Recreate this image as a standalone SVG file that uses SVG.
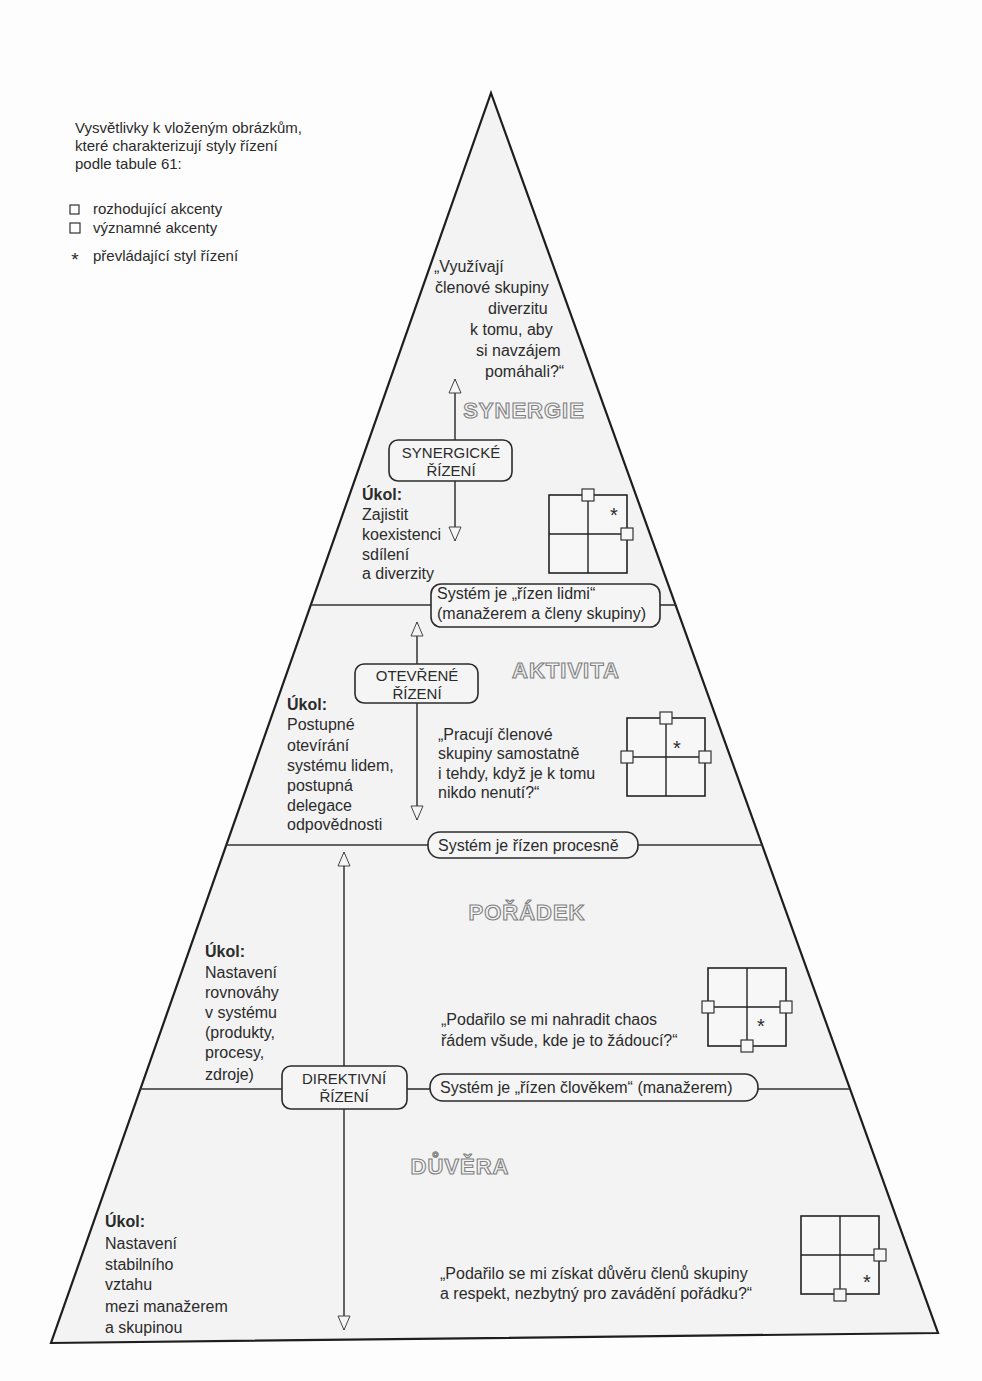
<svg xmlns="http://www.w3.org/2000/svg" width="982" height="1381" viewBox="0 0 982 1381">
<defs>
<style>
text{font-family:"Liberation Sans",Arial,sans-serif;fill:#2b2b2b;}
.t{font-size:16px;}
.lg{font-size:15px;}
.b{font-weight:bold;}
.bx{font-size:15px;text-anchor:middle;}
.lvl{font-size:22px;font-weight:bold;letter-spacing:1px;text-anchor:middle;fill:#f4f4f4;stroke:#808080;stroke-width:1.1;}
.box{fill:#f5f5f5;stroke:#2b2b2b;stroke-width:1.6;}
.ln{stroke:#333;stroke-width:1.6;fill:none;}
.ar{stroke:#333;stroke-width:1.5;fill:none;marker-end:url(#ah);}
.grid{fill:#f7f7f7;stroke:#222;stroke-width:1.6;}
.gl{stroke:#222;stroke-width:1.4;}
.sq{fill:#f7f7f7;stroke:#333;stroke-width:1.2;}
.st{font-size:20px;text-anchor:middle;}
</style>
<marker id="ah" viewBox="0 0 16 14" refX="15" refY="7" markerWidth="16" markerHeight="14" markerUnits="userSpaceOnUse" orient="auto">
<path d="M1,1 L15,7 L1,13 Z" fill="#f5f5f5" stroke="#444" stroke-width="1"/>
</marker>
<g id="gridtpl">
<rect class="grid" x="0" y="0" width="78" height="78"/>
<line class="gl" x1="39" y1="0" x2="39" y2="78"/>
<line class="gl" x1="0" y1="39" x2="78" y2="39"/>
</g>
</defs>
<rect x="0" y="0" width="982" height="1381" fill="#fdfdfd"/>

<g id="pyramid">
<polygon points="491,93 938,1333 51,1343" fill="#f3f3f3" stroke="#1e1e1e" stroke-width="2.2" stroke-linejoin="miter"/>
</g>

<g id="connectors">
<line class="ln" x1="311" y1="605" x2="431" y2="605"/>
<line class="ln" x1="660" y1="605" x2="676" y2="605"/>
<line class="ln" x1="226" y1="845" x2="428" y2="845"/>
<line class="ln" x1="638" y1="845" x2="762" y2="845"/>
<line class="ln" x1="140" y1="1089" x2="282" y2="1089"/>
<line class="ln" x1="407" y1="1089" x2="430" y2="1089"/>
<line class="ln" x1="758" y1="1089" x2="850" y2="1089"/>
<line class="ar" x1="455" y1="441" x2="455" y2="379"/>
<line class="ar" x1="455" y1="481" x2="455" y2="541"/>
<line class="ar" x1="417" y1="664" x2="417" y2="622"/>
<line class="ar" x1="417" y1="703" x2="417" y2="820"/>
<line class="ar" x1="344" y1="1066" x2="344" y2="852"/>
<line class="ar" x1="344" y1="1109" x2="344" y2="1330"/>
</g>

<g id="legend">
<text class="lg" x="75" y="133">Vysvětlivky k vloženým obrázkům,</text>
<text class="lg" x="75" y="151">které charakterizují styly řízení</text>
<text class="lg" x="75" y="169">podle tabule 61:</text>
<rect x="70" y="205" width="9" height="9" fill="none" stroke="#333" stroke-width="1.2"/>
<text class="lg" x="93" y="214">rozhodující akcenty</text>
<rect x="70" y="223" width="10" height="10" fill="none" stroke="#333" stroke-width="1.2"/>
<text class="lg" x="93" y="233">významné akcenty</text>
<text x="75" y="266" style="font-size:19px;text-anchor:middle">*</text>
<text class="lg" x="93" y="261">převládající styl řízení</text>
</g>

<g id="level-synergie">
<text class="lvl" x="524" y="418">SYNERGIE</text>
<text class="t" x="434" y="272">„Využívají</text>
<text class="t" x="435" y="293">členové skupiny</text>
<text class="t" x="488" y="314">diverzitu</text>
<text class="t" x="470" y="335">k tomu, aby</text>
<text class="t" x="476" y="356">si navzájem</text>
<text class="t" x="485" y="377">pomáhali?“</text>
<text class="t" x="362" y="500"><tspan class="b">Úkol:</tspan></text>
<text class="t" x="362" y="520">Zajistit</text>
<text class="t" x="362" y="540">koexistenci</text>
<text class="t" x="362" y="560">sdílení</text>
<text class="t" x="362" y="579">a diverzity</text>
</g>
<g id="grid-synergie">
<use href="#gridtpl" x="549" y="495"/>
<rect class="sq" x="582" y="489" width="12" height="12"/>
<rect class="sq" x="621" y="528" width="12" height="12"/>
<text class="st" x="614" y="522">*</text>
</g>
<g id="node-synergicke">
<rect class="box" x="389" y="440" width="123" height="41" rx="9"/>
<text class="bx" x="451" y="458">SYNERGICKÉ</text>
<text class="bx" x="451" y="476">ŘÍZENÍ</text>
</g>
<g id="node-rizen-lidmi">
<rect class="box" x="431" y="584" width="229" height="43" rx="10"/>
<text class="t" x="437" y="599">Systém je „řízen lidmi“</text>
<text class="t" x="437" y="619">(manažerem a členy skupiny)</text>
</g>

<g id="level-aktivita">
<text class="lvl" x="566" y="678">AKTIVITA</text>
<text class="t" x="287" y="710"><tspan class="b">Úkol:</tspan></text>
<text class="t" x="287" y="730">Postupné</text>
<text class="t" x="287" y="751">otevírání</text>
<text class="t" x="287" y="771">systému lidem,</text>
<text class="t" x="287" y="791">postupná</text>
<text class="t" x="287" y="811">delegace</text>
<text class="t" x="287" y="830">odpovědnosti</text>
<text class="t" x="438" y="740">„Pracují členové</text>
<text class="t" x="438" y="759">skupiny samostatně</text>
<text class="t" x="438" y="779">i tehdy, když je k tomu</text>
<text class="t" x="438" y="798">nikdo nenutí?“</text>
</g>
<g id="grid-aktivita">
<use href="#gridtpl" x="627" y="718"/>
<rect class="sq" x="660" y="712" width="12" height="12"/>
<rect class="sq" x="621" y="751" width="12" height="12"/>
<rect class="sq" x="699" y="751" width="12" height="12"/>
<text class="st" x="677" y="755">*</text>
</g>
<g id="node-otevrene">
<rect class="box" x="355" y="664" width="123" height="39" rx="9"/>
<text class="bx" x="417" y="681">OTEVŘENÉ</text>
<text class="bx" x="417" y="699">ŘÍZENÍ</text>
</g>
<g id="node-procesne">
<rect class="box" x="428" y="832" width="210" height="26" rx="12"/>
<text class="t" x="438" y="851">Systém je řízen procesně</text>
</g>

<g id="level-poradek">
<text class="lvl" x="527" y="920">POŘÁDEK</text>
<text class="t" x="205" y="957"><tspan class="b">Úkol:</tspan></text>
<text class="t" x="205" y="978">Nastavení</text>
<text class="t" x="205" y="998">rovnováhy</text>
<text class="t" x="205" y="1018">v systému</text>
<text class="t" x="205" y="1038">(produkty,</text>
<text class="t" x="205" y="1058">procesy,</text>
<text class="t" x="205" y="1080">zdroje)</text>
<text class="t" x="441" y="1025">„Podařilo se mi nahradit chaos</text>
<text class="t" x="441" y="1046">řádem všude, kde je to žádoucí?“</text>
</g>
<g id="grid-poradek">
<use href="#gridtpl" x="708" y="968"/>
<rect class="sq" x="702" y="1001" width="12" height="12"/>
<rect class="sq" x="780" y="1001" width="12" height="12"/>
<rect class="sq" x="741" y="1040" width="12" height="12"/>
<text class="st" x="761" y="1033">*</text>
</g>
<g id="node-direktivni">
<rect class="box" x="282" y="1066" width="125" height="43" rx="9"/>
<text class="bx" x="344" y="1084">DIREKTIVNÍ</text>
<text class="bx" x="344" y="1102">ŘÍZENÍ</text>
</g>
<g id="node-clovekem">
<rect class="box" x="430" y="1074" width="328" height="27" rx="13"/>
<text class="t" x="440" y="1093">Systém je „řízen člověkem“ (manažerem)</text>
</g>

<g id="level-duvera">
<text class="lvl" x="460" y="1174">DŮVĚRA</text>
<text class="t" x="105" y="1227"><tspan class="b">Úkol:</tspan></text>
<text class="t" x="105" y="1249">Nastavení</text>
<text class="t" x="105" y="1270">stabilního</text>
<text class="t" x="105" y="1290">vztahu</text>
<text class="t" x="105" y="1312">mezi manažerem</text>
<text class="t" x="105" y="1333">a skupinou</text>
<text class="t" x="440" y="1279">„Podařilo se mi získat důvěru členů skupiny</text>
<text class="t" x="440" y="1299">a respekt, nezbytný pro zavádění pořádku?“</text>
</g>
<g id="grid-duvera">
<use href="#gridtpl" x="801" y="1216"/>
<rect class="sq" x="874" y="1249" width="12" height="12"/>
<rect class="sq" x="834" y="1289" width="12" height="12"/>
<text class="st" x="867" y="1289">*</text>
</g>
</svg>
